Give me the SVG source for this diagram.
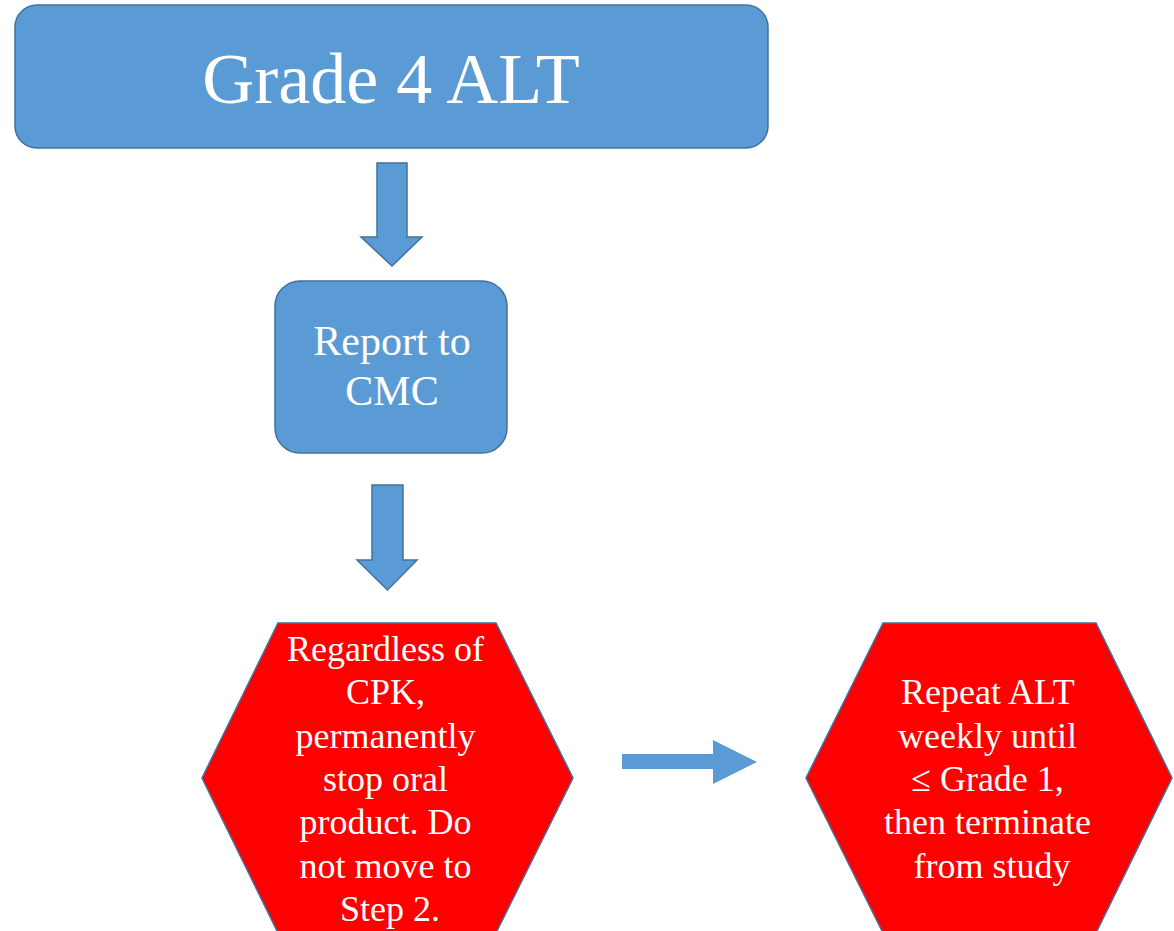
<svg xmlns="http://www.w3.org/2000/svg" width="1174" height="931" viewBox="0 0 1174 931">
<style>
.box{fill:#5B9BD5;stroke:#41719C;stroke-width:1.5}
.hex{fill:#FF0000;stroke:#41719C;stroke-width:1.5}
.arr{fill:#5B9BD5;stroke:#41719C;stroke-width:1.5}
.arrh{fill:#5B9BD5;stroke:none}
.t{font-family:"Liberation Serif","Times New Roman",serif;fill:#FFFFFF;text-anchor:middle}
</style>
<rect width="1174" height="931" fill="#FFFFFF"/>
<g id="grade4">
<rect class="box" x="15" y="5" width="753" height="143" rx="22" ry="22"/>
<text class="t" x="391" y="103" font-size="72">Grade 4 ALT</text>
</g>
<g id="report">
<rect class="box" x="275" y="281" width="232" height="172" rx="25" ry="25"/>
<text class="t" x="392" y="355" font-size="42">Report to</text>
<text class="t" x="392" y="405" font-size="42">CMC</text>
</g>
<g id="stop">
<polygon class="hex" points="278,623 496,623 573,778 496,933 278,933 202,778"/>
<text class="t" font-size="36">
<tspan x="390" y="661">Regardless of</tspan>
<tspan x="390" y="704.3">CPK,</tspan>
<tspan x="390" y="747.6">permanently</tspan>
<tspan x="390" y="790.9">stop oral</tspan>
<tspan x="390" y="834.2">product. Do</tspan>
<tspan x="390" y="877.5">not move to</tspan>
<tspan x="390" y="920.8">Step 2.</tspan>
</text>
</g>
<g id="repeat">
<polygon class="hex" points="883,623 1096,623 1172,778 1096,933 883,933 806,778"/>
<text class="t" font-size="36">
<tspan x="992" y="704.3">Repeat ALT</tspan>
<tspan x="992" y="747.6">weekly until</tspan>
<tspan x="992" y="790.9">≤ Grade 1,</tspan>
<tspan x="992" y="834.2">then terminate</tspan>
<tspan x="992" y="877.5">from study</tspan>
</text>
</g>
<g id="connectors">
<polygon class="arr" points="377,163 407,163 407,237 422,237 392,266 361,237 377,237"/>
<polygon class="arr" points="372,485 403,485 403,560 417,560 387.5,590 357,560 372,560"/>
<polygon class="arrh" points="622,754 713,754 713,740 757,762 713,784 713,769 622,769"/>
</g>
</svg>
